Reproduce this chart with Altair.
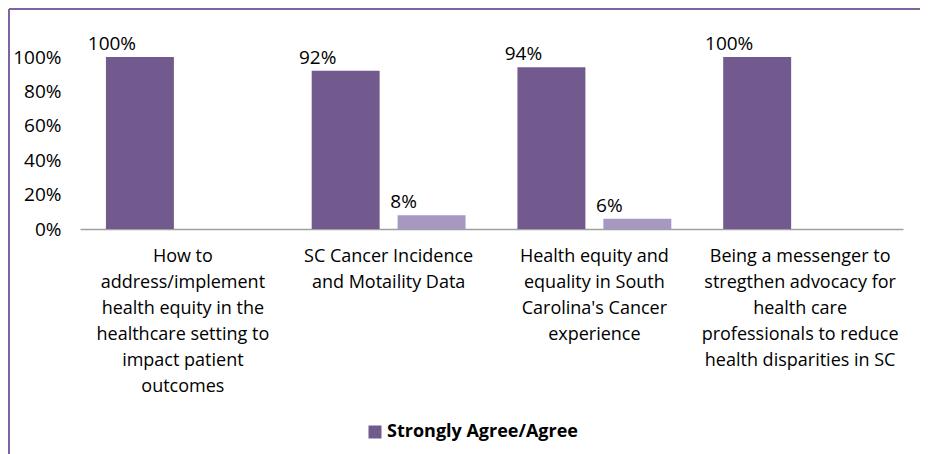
import altair as alt
import pandas as pd

categories = [
    "How to|address/implement|health equity in the|healthcare setting to|impact patient|outcomes",
    "SC Cancer Incidence|and Motaility Data",
    "Health equity and|equality in South|Carolina's Cancer|experience",
    "Being a messenger to|stregthen advocacy for|health care|professionals to reduce|health disparities in SC",
]
series = ["Strongly Agree/Agree", "Neutral"]
agree_values = [1.00, 0.92, 0.94, 1.00]
neutral_values = [0.0, 0.08, 0.06, 0.0]
y_ticks = [0, 0.2, 0.4, 0.6, 0.8, 1.0]
colors = ["#725A8E", "#A698C0"]

rows = []
for c, a, n in zip(categories, agree_values, neutral_values):
    rows.append({"category": c, "series": series[0], "value": a})
    rows.append({"category": c, "series": series[1], "value": n})
df = pd.DataFrame(rows)

FONT = "Open Sans"
FS = 18
NFS = 19

base = alt.Chart(df).encode(
    x=alt.X("category:N", sort=categories,
            scale=alt.Scale(paddingInner=0, paddingOuter=0),
            axis=alt.Axis(title=None, labelAngle=0, labelExpr="split(datum.label, '|')",
                          labelFont=FONT, labelFontSize=FS, labelLineHeight=26,
                          labelColor="black", labelPadding=18, labelLimit=0,
                          labelOverlap=False, ticks=False, domainColor="#A0A0A0",
                          domainWidth=1.5)),
    xOffset=alt.XOffset("series:N", sort=series,
                        scale=alt.Scale(paddingInner=0.209, paddingOuter=0.302)),
    y=alt.Y("value:Q", scale=alt.Scale(domain=[0, 1]),
            axis=alt.Axis(title=None, format="%", values=y_ticks, grid=False,
                          domain=False, ticks=False, labelFont=FONT, labelFontSize=NFS,
                          labelColor="black", labelPadding=19)),
)

bars = base.mark_bar().encode(
    color=alt.Color("series:N",
                    scale=alt.Scale(domain=series, range=colors),
                    legend=alt.Legend(values=[series[0]], orient="none", legendX=286,
                                      legendY=366, title=None, symbolType="square",
                                      symbolSize=169, symbolStrokeWidth=0,
                                      labelFont=FONT, labelFontWeight="bold",
                                      labelFontSize=18, labelColor="black",
                                      labelLimit=0, padding=0, labelOffset=3)),
)

labels = base.transform_filter("datum.value > 0").mark_text(
    dx=-28, dy=-7, baseline="alphabetic", font=FONT, fontSize=NFS, color="black"
).encode(text=alt.Text("value:Q", format=".0%"))

one = pd.DataFrame({"k": [0]})
top_border = alt.Chart(one).mark_rule(color="#8064A2", strokeWidth=2).encode(
    x=alt.value(-71), x2=alt.value(845), y=alt.value(-48))
left_border = alt.Chart(one).mark_rule(color="#8064A2", strokeWidth=2).encode(
    x=alt.value(-71), y=alt.value(-48), y2=alt.value(400))

chart = alt.layer(bars, labels, top_border, left_border).properties(
    width=823, height=172,
    autosize=alt.AutoSizeParams(type="none"),
    padding={"left": 72, "top": 49, "right": 17, "bottom": 225},
    background="white",
).configure_view(stroke=None)

chart.save("out.html", embed_options={"renderer": "svg", "actions": False})
